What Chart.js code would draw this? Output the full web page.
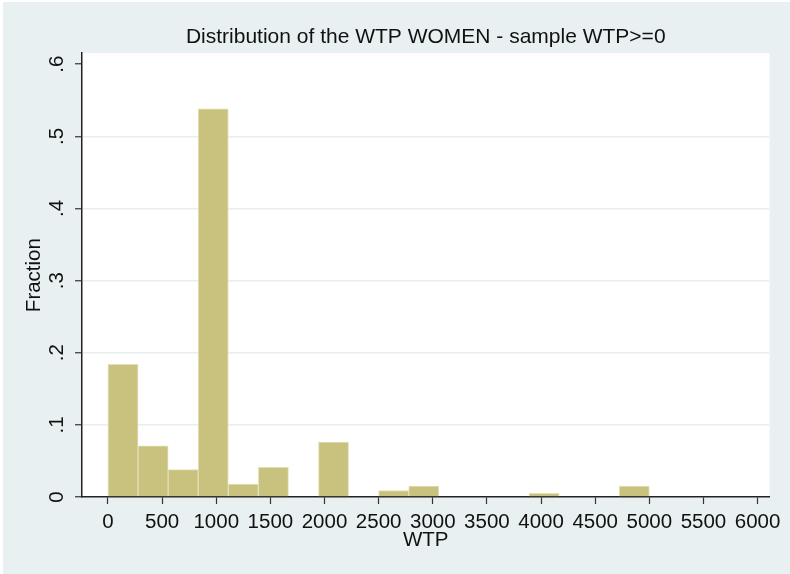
<!DOCTYPE html>
<html>
<head>
<meta charset="utf-8">
<script src="https://cdn.jsdelivr.net/npm/chart.js@4"></script>
<style>
  html, body { margin: 0; padding: 0; background: #ffffff; }
  #wrap { position: absolute; left: 3px; top: 2px; width: 787px; height: 572px; }
</style>
</head>
<body>
<div id="wrap"><canvas id="c"></canvas></div>
<script>
// Bin midpoints (WTP), bin width = 5000/18
const binMids = [138.9, 416.7, 694.4, 972.2, 1250.0, 1527.8, 1805.6, 2083.3, 2361.1,
                 2638.9, 2916.7, 3194.4, 3472.2, 3750.0, 4027.8, 4305.6, 4583.3, 4861.1];
// Fraction in each bin (null = empty bin)
const fractions = [0.184, 0.071, 0.038, 0.538, 0.018, 0.041, null, 0.076, null,
                   0.009, 0.015, null, null, null, 0.005, null, null, 0.015];
const xTicks = [0, 500, 1000, 1500, 2000, 2500, 3000, 3500, 4000, 4500, 5000, 5500, 6000];
const yTicks = [0, 0.1, 0.2, 0.3, 0.4, 0.5, 0.6];
const titleText = 'Distribution of the WTP WOMEN - sample WTP>=0';
const xTitle = 'WTP';
const yTitle = 'Fraction';

const FONT = '"Liberation Sans", Arial, sans-serif';
const BG = '#E8F0F2';

const bgPlugin = {
  id: 'bg',
  beforeDraw(chart) {
    const {ctx, chartArea: a, width, height} = chart;
    ctx.save();
    ctx.fillStyle = BG;
    ctx.fillRect(0, 0, width, height);
    ctx.fillStyle = '#ffffff';
    ctx.fillRect(a.left, a.top, a.right - a.left, a.bottom - a.top);
    ctx.restore();
  }
};

new Chart(document.getElementById('c'), {
  type: 'bar',
  data: {
    datasets: [{
      data: binMids.map((x, i) => ({x: x, y: fractions[i]})),
      backgroundColor: '#C9C27F',
      borderColor: '#E4E0B6',
      borderWidth: 1,
      barPercentage: 1,
      categoryPercentage: 1
    }]
  },
  options: {
    responsive: true,
    maintainAspectRatio: false,
    animation: false,
    devicePixelRatio: 1,
    layout: { padding: { left: 0, right: 20.5, top: 0, bottom: 0 } },
    plugins: {
      legend: { display: false },
      tooltip: { enabled: false },
      title: {
        display: true,
        text: titleText,
        fullSize: false,
        color: '#111',
        font: { family: FONT, size: 21, weight: 'normal' },
        padding: { top: 22.4, bottom: 3.6 }
      }
    },
    scales: {
      x: {
        type: 'linear',
        offset: false,
        min: -240,
        max: 6110,
        afterBuildTicks: s => { s.ticks = xTicks.map(v => ({value: v})); },
        afterFit: s => { s.height = 77; },
        ticks: {
          color: '#111',
          font: { family: FONT, size: 20.5 },
          padding: 5.6,
          maxRotation: 0,
          minRotation: 0,
          autoSkip: false,
          callback: v => String(v)
        },
        grid: { offset: false, drawOnChartArea: false, drawTicks: true, tickLength: 7, tickColor: '#333', tickWidth: 1.2 },
        border: { display: true, color: '#222', width: 1.5 },
        title: {
          display: true, text: xTitle, color: '#111',
          font: { family: FONT, size: 20.5 },
          padding: { top: 0, bottom: 21.3 }
        }
      },
      y: {
        min: 0,
        max: 0.6153,
        afterBuildTicks: s => { s.ticks = yTicks.map(v => ({value: v})); },
        afterFit: s => { s.width = 79; },
        ticks: {
          color: '#111',
          font: { family: FONT, size: 20.5 },
          padding: 9,
          minRotation: 90,
          maxRotation: 90,
          crossAlign: 'center',
          autoSkip: false,
          callback: v => (v === 0 ? '0' : String(Math.round(v * 10) / 10).replace(/^0/, ''))
        },
        grid: {
          drawTicks: true,
          tickLength: 7,
          tickColor: '#333',
          tickWidth: 1.2,
          lineWidth: 1.5,
          color: c => (c.tick && (c.tick.value === 0 || c.tick.value === 0.6)) ? 'rgba(0,0,0,0)' : '#E6EEF0'
        },
        border: { display: true, color: '#222', width: 1.5 },
        title: {
          display: true, text: yTitle, color: '#111',
          font: { family: FONT, size: 20.5 },
          padding: { top: 18.7, bottom: 0 }
        }
      }
    }
  },
  plugins: [bgPlugin]
});
</script>
</body>
</html>
